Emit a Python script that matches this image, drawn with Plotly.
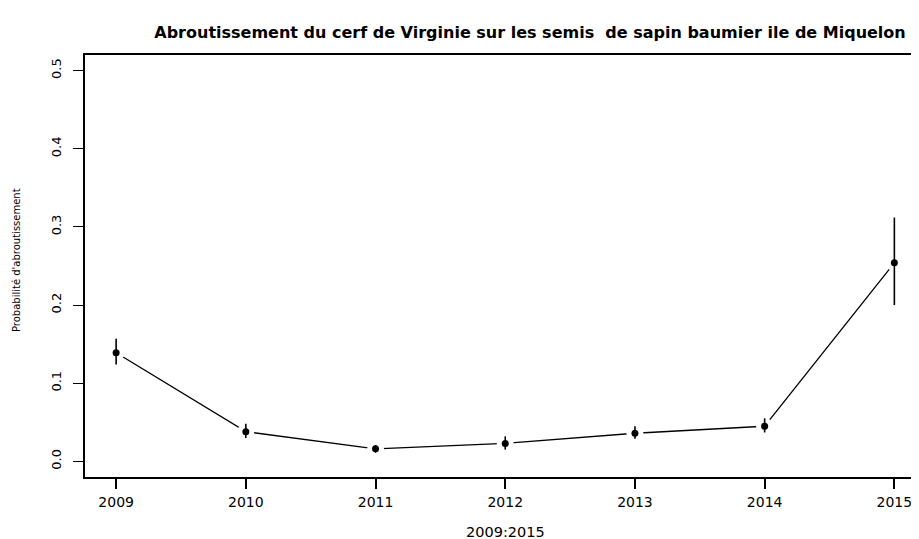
import plotly.graph_objects as go

years = [2009, 2010, 2011, 2012, 2013, 2014, 2015]
prob = [0.139, 0.038, 0.016, 0.023, 0.036, 0.045, 0.254]
ci_low = [0.124, 0.030, 0.011, 0.015, 0.029, 0.037, 0.200]
ci_high = [0.157, 0.048, 0.021, 0.032, 0.045, 0.055, 0.312]
y_ticks = [0.0, 0.1, 0.2, 0.3, 0.4, 0.5]
y_tick_labels = ["0.0", "0.1", "0.2", "0.3", "0.4", "0.5"]

title = "Abroutissement du cerf de Virginie sur les semis\u00a0\u00a0de sapin baumier ile de Miquelon"
x_title = "2009:2015"
y_title = "Probabilité d'abroutissement"

err_plus = [h - p for h, p in zip(ci_high, prob)]
err_minus = [p - l for p, l in zip(prob, ci_low)]

# page body has an 8px margin; size the figure so it fits the 919x539 window
OFF = 8
W, H = 919 - OFF, 539 - OFF
L, R, T, B = 85 - OFF, 0, 55 - OFF, 539 - 477
pw, ph = W - L - R, H - T - B


def px_x(x):
    # page pixel -> paper coordinate
    return (x - OFF - L) / pw


def px_y(y):
    return (H - B - (y - OFF)) / ph


fig = go.Figure()
fig.add_trace(go.Scatter(x=years, y=prob, mode="lines",
                         line=dict(color="black", width=1.3), showlegend=False, hoverinfo="skip"))
fig.add_trace(go.Scatter(x=years, y=prob, mode="markers",
                         marker=dict(color="white", size=17), showlegend=False, hoverinfo="skip"))
fig.add_trace(go.Scatter(x=years, y=prob, mode="markers",
                         marker=dict(color="black", size=7),
                         error_y=dict(type="data", symmetric=False, array=err_plus, arrayminus=err_minus,
                                      color="black", thickness=1.6, width=0),
                         showlegend=False))

font_family = "DejaVu Sans"
fig.update_layout(
    width=W, height=H,
    margin=dict(l=L, r=R, t=T, b=B, autoexpand=False),
    paper_bgcolor="white", plot_bgcolor="white",
    font=dict(family=font_family, color="black", size=14),
    title=dict(text="<b>" + title + "</b>", x=(530 - OFF) / W, xanchor="center", xref="container",
               y=1 - (32 - OFF) / H, yanchor="middle", yref="container", automargin=False,
               font=dict(family=font_family, size=16, color="black")),
    annotations=[
        dict(text=x_title, xref="paper", yref="paper", x=px_x(505), y=px_y(532),
             xanchor="center", yanchor="middle", showarrow=False, font=dict(size=14.5)),
        dict(text=y_title, xref="paper", yref="paper", x=px_x(17), y=px_y(260),
             xanchor="center", yanchor="middle", textangle=-90, showarrow=False, font=dict(size=10)),
    ],
)
fig.update_xaxes(range=[2008.76, 2015.19], tickvals=years, ticktext=[str(y) for y in years],
                 showline=True, linecolor="black", linewidth=1.5, mirror=True,
                 ticks="outside", ticklen=10, tickwidth=1.5, tickcolor="black",
                 ticklabelstandoff=1,
                 showgrid=False, zeroline=False, automargin=False,
                 tickfont=dict(size=14))
fig.update_yaxes(range=[-0.02, 0.52], tickvals=y_ticks, ticktext=y_tick_labels,
                 showline=True, linecolor="black", linewidth=1.5, mirror=False,
                 ticks="outside", ticklen=10, tickwidth=1.2, tickcolor="black",
                 ticklabelstandoff=7,
                 tickangle=-90, showgrid=False, zeroline=False, automargin=False,
                 tickfont=dict(size=13))

fig.write_html("out.html")
